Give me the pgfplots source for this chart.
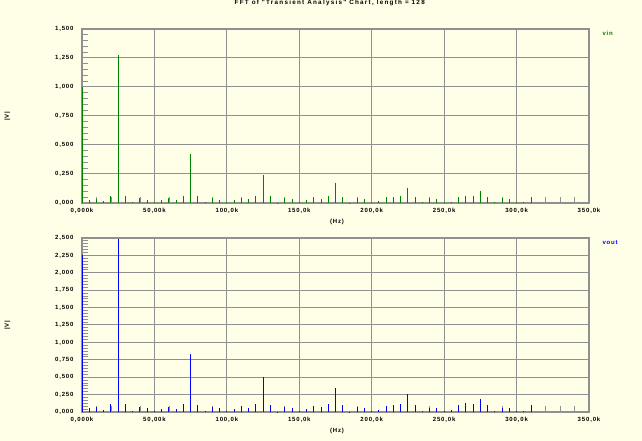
\documentclass[border=0pt]{standalone}
\usepackage{fontspec}
\setmainfont{Liberation Sans}
\newfontfamily\ltf[LetterSpace=14]{Liberation Sans Bold}
\newfontfamily\ltt[LetterSpace=20]{Liberation Sans Bold}
\usepackage{pgfplots}
\usepackage{pgfplotstable}
\pgfplotsset{compat=1.18}
\definecolor{bg}{RGB}{255,255,232}
\definecolor{gridc}{RGB}{144,144,144}
\definecolor{vinc}{RGB}{0,128,0}
\definecolor{voutc}{RGB}{0,0,255}
\newcommand{\lf}{\ltf\fontsize{6}{7}\selectfont}
\newcommand{\tf}{\ltt\fontsize{6.3}{7.5}\selectfont}

\pgfplotstableread{
f v
0 1.000
5 0.029
10 0.037
15 0.020
20 0.063
25 1.279
30 0.063
35 0.011
40 0.043
45 0.029
50 0.005
55 0.029
60 0.040
65 0.029
70 0.063
75 0.425
80 0.063
85 0.011
90 0.043
95 0.029
100 0.005
105 0.029
110 0.040
115 0.037
120 0.063
125 0.244
130 0.063
135 0.003
140 0.043
145 0.037
150 0.005
155 0.023
160 0.049
165 0.036
170 0.063
175 0.172
180 0.052
185 0.003
190 0.043
195 0.034
200 0.005
205 0.020
210 0.049
215 0.052
220 0.063
225 0.129
230 0.052
235 0.011
240 0.043
245 0.034
250 0.005
255 0.011
260 0.052
265 0.060
270 0.060
275 0.106
280 0.052
285 0.011
290 0.040
295 0.034
300 0.005
305 0.011
310 0.052
}\vintable

\pgfplotstableread{
f v
0 2.260
5 0.053
10 0.077
15 0.029
20 0.115
25 2.490
30 0.115
35 0.014
40 0.077
45 0.053
50 0.010
55 0.043
60 0.077
65 0.043
70 0.115
75 0.829
80 0.096
85 0.014
90 0.077
95 0.053
100 0.010
105 0.043
110 0.087
115 0.053
120 0.115
125 0.500
130 0.096
135 0.005
140 0.077
145 0.053
150 0.010
155 0.043
160 0.087
165 0.067
170 0.115
175 0.340
180 0.096
185 0.005
190 0.067
195 0.053
200 0.010
205 0.029
210 0.087
215 0.096
220 0.115
225 0.255
230 0.096
235 0.014
240 0.053
245 0.053
250 0.010
255 0.029
260 0.096
265 0.130
270 0.115
275 0.183
280 0.096
285 0.014
290 0.053
295 0.053
300 0.010
305 0.014
310 0.096
}\vouttable

\pgfplotsset{ltsp/.style={
  set layers,
  scale only axis, width=507pt, height=174pt,
  xmin=0, xmax=350,
  xtick={0,50,100,150,200,250,300,350},
  xticklabels={{0,000k},{50,00k},{100,0k},{150,0k},{200,0k},{250,0k},{300,0k},{350,0k}},
  minor x tick num=4,
  grid=major,
  major grid style={gridc, line width=1pt},
  axis line style={gridc, line width=1.2pt},
  every tick/.style={gridc, line width=0.8pt},
  major tick length=0pt, minor tick length=6pt,
  tick align=inside, xtick pos=bottom, ytick pos=left,
  ticklabel style={font=\lf},
  yticklabel style={xshift=-5pt},
  xticklabel style={yshift=-1.5pt},
  xlabel={(Hz)},
  xlabel style={at={(axis description cs:0.503,-0.1075)}, anchor=center, font=\lf},
  ylabel={|V|},
  ylabel style={at={(axis description cs:-0.147,0.5)}, anchor=center, font=\lf},
  clip=false,
}}

\begin{document}
\pagecolor{bg}%
\begin{tikzpicture}[x=1pt,y=1pt]
\begin{axis}[ltsp, at={(82pt,238pt)}, anchor=south west,
  ymin=0, ymax=1.5,
  ytick={0,0.25,0.5,0.75,1,1.25,1.5},
  yticklabels={{0,000},{0,250},{0,500},{0,750},{1,000},{1,250},{1,500}},
  minor y tick num=4,
  title={FFT of "Transient Analysis" Chart, length = 128},
  title style={at={(axis description cs:0.4886,1.115)}, anchor=center, font=\tf},
]
\addplot[ycomb, vinc, line width=1pt, mark=none, on layer=axis foreground] table[x=f, y=v] {\vintable};
\node[anchor=west, text=vinc, font=\lf] at (axis description cs:1.0197,0.977) {vin};
\end{axis}
\begin{axis}[ltsp, at={(82pt,29pt)}, anchor=south west,
  ymin=0, ymax=2.5,
  ytick={0,0.25,0.5,0.75,1,1.25,1.5,1.75,2,2.25,2.5},
  yticklabels={{0,000},{0,250},{0,500},{0,750},{1,000},{1,250},{1,500},{1,750},{2,000},{2,250},{2,500}},
  minor y tick num=5,
]
\addplot[ycomb, voutc, line width=1pt, mark=none, on layer=axis foreground] table[x=f, y=v] {\vouttable};
\node[anchor=west, text=voutc, font=\lf] at (axis description cs:1.0197,0.971) {vout};
\end{axis}
\pgfresetboundingbox
\path (0,0) rectangle (642,441);
\end{tikzpicture}
\end{document}
